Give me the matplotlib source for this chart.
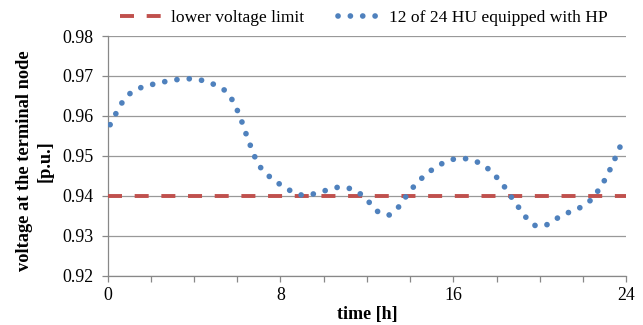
import matplotlib
matplotlib.use("Agg")
import matplotlib.pyplot as plt
import numpy as np

plt.rcParams['font.family'] = ['Liberation Serif', 'DejaVu Serif']

# values
time_h = [0.12, 0.38, 0.67, 1.04, 1.55, 2.09, 2.67, 3.23, 3.80, 4.38,
          4.92, 5.43, 5.77, 6.02, 6.23, 6.42, 6.62, 6.83, 7.11, 7.51,
          7.99, 8.48, 9.01, 9.58, 10.13, 10.69, 11.26, 11.75, 12.15, 12.54,
          13.03, 13.46, 13.80, 14.16, 14.55, 15.00, 15.48, 16.02, 16.59, 17.13,
          17.62, 18.02, 18.38, 18.70, 19.04, 19.38, 19.81, 20.35, 20.83, 21.35,
          21.88, 22.35, 22.69, 23.00, 23.26, 23.50, 23.73]
voltage_pu = [0.9578, 0.9605, 0.9633, 0.9656, 0.9671, 0.9679, 0.9686, 0.9691, 0.9693, 0.9689,
              0.9679, 0.9664, 0.9640, 0.9612, 0.9583, 0.9553, 0.9524, 0.9495, 0.9468, 0.9447,
              0.9428, 0.9412, 0.9401, 0.9405, 0.9414, 0.9422, 0.9418, 0.9403, 0.9381, 0.9358,
              0.9352, 0.9372, 0.9398, 0.9423, 0.9445, 0.9465, 0.9481, 0.9492, 0.9493, 0.9484,
              0.9467, 0.9445, 0.9421, 0.9395, 0.9369, 0.9344, 0.9324, 0.9328, 0.9345, 0.9359,
              0.9371, 0.9389, 0.9413, 0.9440, 0.9468, 0.9497, 0.9526]
limit_time = [0, 24]
limit_pu = [0.94, 0.94]

y_ticks = [0.92, 0.93, 0.94, 0.95, 0.96, 0.97, 0.98]
x_ticks = list(range(0, 25, 2))
x_labels = [str(t) if t % 8 == 0 else '' for t in x_ticks]

red = '#C0504D'
blue = '#4F81BD'
gray = '#999999'

fig = plt.figure(figsize=(6.43, 3.25), dpi=100)
ax = fig.add_axes([0.1672, 0.1517, 0.8071, 0.7375])

l1, = ax.plot(limit_time, limit_pu, color=red, lw=2.8, dashes=(3.6, 3.26),
              dash_capstyle='butt', zorder=3, label='lower voltage limit')
l2, = ax.plot(time_h, voltage_pu, color=blue, lw=4.1, dashes=(0.01, 2.16),
              dash_capstyle='round', zorder=4, label='12 of 24 HU equipped with HP')

ax.set_xlim(0, 24)
ax.set_ylim(0.92, 0.98)
ax.set_yticks(y_ticks)
ax.set_yticklabels([f'{v:.2f}' for v in y_ticks])
ax.set_xticks(x_ticks)
ax.set_xticklabels(x_labels)

ax.set_axisbelow(True)
ax.yaxis.grid(True, color=gray, lw=0.9)
for s in ['top', 'right']:
    ax.spines[s].set_visible(False)
for s in ['left', 'bottom']:
    ax.spines[s].set_color('#888888')
    ax.spines[s].set_linewidth(0.9)
ax.tick_params(axis='both', direction='out', length=4.3, width=0.9,
               color='#888888', labelsize=12.9)
ax.tick_params(axis='x', pad=4)
ax.tick_params(axis='y', pad=6)

ax.set_xlabel('time [h]', fontsize=13, fontweight='bold', labelpad=1)
fig.text(0.054, 0.505, 'voltage at the terminal node\n[p.u.]', rotation=90,
         ha='center', va='center', fontsize=13.2, fontweight='bold',
         multialignment='center', linespacing=1.3)

fig.legend(handles=[l1, l2], loc='center', bbox_to_anchor=(0.566, 0.945),
           ncol=2, frameon=False, fontsize=12.6, handlelength=2.45,
           handletextpad=0.5, columnspacing=1.9)

plt.savefig('out.png', dpi=100)
